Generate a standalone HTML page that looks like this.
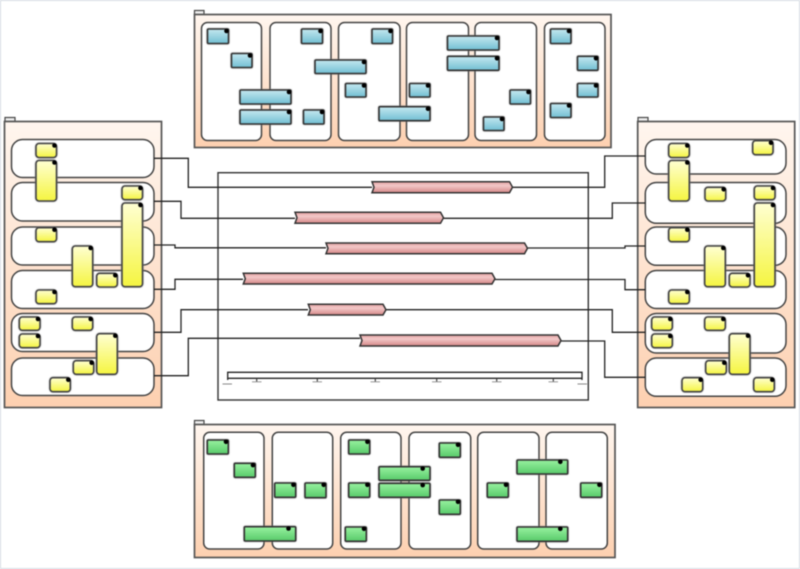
<!DOCTYPE html>
<html><head><meta charset="utf-8"><style>
html,body{margin:0;padding:0;background:#fff;width:800px;height:569px;overflow:hidden}
svg{display:block;filter:blur(.4px)}
.l{fill:#fff;stroke:#444;stroke-width:1.5}
.p{stroke:#555;stroke-width:1.7}
.t{fill:#eee;stroke:#444;stroke-width:1.2}
.c{fill:none;stroke:#222;stroke-width:1.3}
.b,.g,.y{filter:drop-shadow(0 0 .8px #888)}
.b rect{fill:url(#bl);stroke:#333;stroke-width:1.6}
.g rect{fill:url(#gr);stroke:#333;stroke-width:1.6}
.y rect{fill:url(#ye);stroke:#444;stroke-width:1.6}
.d circle{fill:#000;r:2.3px}
.r{fill:url(#re);stroke:#333;stroke-width:1.5}
.s{stroke:#888;stroke-width:.9}
</style></head><body>
<svg width="800" height="569" viewBox="0 0 800 569" xmlns="http://www.w3.org/2000/svg">
<defs>
<linearGradient id="pa" x1="0" y1="0" x2="0" y2="1"><stop offset="0" stop-color="#fff6ef"/><stop offset="1" stop-color="#fdd0b0"/></linearGradient>
<linearGradient id="bl" x1="0" y1="0" x2="0" y2="1"><stop offset="0" stop-color="#c4e8f0"/><stop offset="1" stop-color="#72bfd3"/></linearGradient>
<linearGradient id="gr" x1="0" y1="0" x2="0" y2="1"><stop offset="0" stop-color="#98f2a0"/><stop offset="1" stop-color="#58ca6a"/></linearGradient>
<linearGradient id="ye" x1="0" y1="0" x2="0" y2="1"><stop offset="0" stop-color="#ffffd2"/><stop offset="1" stop-color="#f5f540"/></linearGradient>
<linearGradient id="re" x1="0" y1="0" x2="0" y2="1"><stop offset="0" stop-color="#e4a0a0"/><stop offset=".35" stop-color="#f2c8c8"/><stop offset="1" stop-color="#d68888"/></linearGradient>
</defs>
<rect x=".5" y=".5" width="799" height="568" fill="#fff" stroke="#d4dae2"/>

<!-- panels -->
<rect class="t" x="194.500" y="10.500" width="9.500" height="4"/>
<rect class="p" x="194.500" y="14.500" width="416.500" height="133" fill="url(#pa)"/>
<rect class="t" x="5" y="117.500" width="10" height="4"/>
<rect class="p" x="4.500" y="121.500" width="157" height="286" fill="url(#pa)"/>
<rect class="t" x="638" y="117.500" width="10" height="4"/>
<rect class="p" x="637.700" y="121.500" width="157" height="286" fill="url(#pa)"/>
<rect class="t" x="194.500" y="420.500" width="9.500" height="4"/>
<rect class="p" x="194.500" y="424.500" width="420.500" height="133" fill="url(#pa)"/>

<!-- top lanes -->
<rect class="l" x="201.500" y="22.500" width="60" height="118" rx="6"/>
<rect class="l" x="270" y="22.500" width="61" height="118" rx="6"/>
<rect class="l" x="338.500" y="22.500" width="61.500" height="118" rx="6"/>
<rect class="l" x="406.500" y="22.500" width="62" height="118" rx="6"/>
<rect class="l" x="475" y="22.500" width="61.500" height="118" rx="6"/>
<rect class="l" x="544.500" y="22.500" width="60.500" height="118" rx="6"/>

<!-- left lanes -->
<rect class="l" x="11.500" y="139.500" width="142.500" height="38" rx="11"/>
<rect class="l" x="11.500" y="182.500" width="142.500" height="38.500" rx="11"/>
<rect class="l" x="11.500" y="227" width="142.500" height="38" rx="11"/>
<rect class="l" x="11.500" y="270.500" width="142.500" height="38" rx="11"/>
<rect class="l" x="11.500" y="313.500" width="142.500" height="38" rx="11"/>
<rect class="l" x="11.500" y="358" width="142.500" height="37.500" rx="11"/>

<!-- right lanes -->
<rect class="l" x="645.300" y="139.500" width="140.700" height="34.500" rx="11"/>
<rect class="l" x="645.300" y="182.500" width="140.700" height="40.800" rx="11"/>
<rect class="l" x="645.300" y="227" width="140.700" height="38.300" rx="11"/>
<rect class="l" x="645.300" y="270.500" width="140.700" height="38" rx="11"/>
<rect class="l" x="645.300" y="313.500" width="140.700" height="39.500" rx="11"/>
<rect class="l" x="645.300" y="358" width="140.700" height="38.300" rx="11"/>

<!-- bottom lanes -->
<rect class="l" x="203.700" y="432.300" width="60.300" height="116.700" rx="6"/>
<rect class="l" x="272.300" y="432.300" width="60.400" height="116.700" rx="6"/>
<rect class="l" x="340.700" y="432.300" width="60.300" height="116.700" rx="6"/>
<rect class="l" x="409" y="432.300" width="61.700" height="116.700" rx="6"/>
<rect class="l" x="477.700" y="432.300" width="61.300" height="116.700" rx="6"/>
<rect class="l" x="546" y="432.300" width="61.300" height="116.700" rx="6"/>

<!-- centre frame -->
<rect x="218" y="172.700" width="370.300" height="227.300" fill="#fff" stroke="#333" stroke-width="1.4"/>

<!-- connectors -->
<path class="c" d="M154 158.300H188.300V187.300H372"/>
<path class="c" d="M154 201.300H181V218.300H295"/>
<path class="c" d="M154 245H175V247.800H326"/>
<path class="c" d="M154 289.300H175V279.300H243"/>
<path class="c" d="M154 332.300H181V309.700H308"/>
<path class="c" d="M154 375.700H188.300V338.300H360"/>
<path class="c" d="M512 187.300H604.700V156H645.300"/>
<path class="c" d="M443 218.300H612.300V203H645.300"/>
<path class="c" d="M527 248H625V246H645.300"/>
<path class="c" d="M495 279.500H625V289.700H645.300"/>
<path class="c" d="M386 309.700H612.300V332.300H645.300"/>
<path class="c" d="M561 341H604.700V377.300H645.300"/>

<!-- red bars -->
<path class="r" d="M372 181.700H509.500L512.500 187.200L509.500 192.700H372L374 187.200Z"/>
<path class="r" d="M295 212.300H440.500L443.500 217.800L440.500 223.300H295L297 217.800Z"/>
<path class="r" d="M326 243H524.500L527.500 248.300L524.500 253.700H326L328 248.300Z"/>
<path class="r" d="M243.300 273.300H492L495 278.700L492 284H243.300L245.300 278.700Z"/>
<path class="r" d="M308.300 304.300H383L386 309.700L383 315H308.300L310.300 309.700Z"/>
<path class="r" d="M360 335H558L561 340.500L558 346H360L362 340.500Z"/>

<!-- scale -->
<path d="M227.700 380V372.300H582V378.300H227.700M582 372.300V380" fill="none" stroke="#222" stroke-width="1.3"/>
<path d="M256.700 378.300V381.500M317.300 378.300V381.500M375.300 378.300V381.500M436.700 378.300V381.500M496.700 378.300V381.500M553.300 378.300V381.500" stroke="#333" stroke-width="1.1"/>
<path class="s" d="M252 381.800H261.500M312.500 381.800H322M370.500 381.800H380M432 381.800H441.500M492 381.800H501.500M548.500 381.800H558M222.500 384H232M577.500 384H587"/>

<!-- blue -->
<g class="b">
<rect x="207.500" y="29" width="21" height="14.500" rx="1"/>
<rect x="231.500" y="53.500" width="20.500" height="14" rx="1"/>
<rect x="240" y="90" width="51" height="14" rx="1"/>
<rect x="240" y="110" width="51" height="14" rx="1"/>
<rect x="301.500" y="29" width="21" height="14.500" rx="1"/>
<rect x="303.500" y="110" width="20.500" height="14" rx="1"/>
<rect x="315" y="60" width="51" height="13.500" rx="1"/>
<rect x="345.500" y="83.500" width="20.500" height="13.500" rx="1"/>
<rect x="372" y="29" width="20.500" height="14.500" rx="1"/>
<rect x="379" y="106.700" width="51" height="14" rx="1"/>
<rect x="409.500" y="83.500" width="20.500" height="13.500" rx="1"/>
<rect x="447.500" y="36" width="51.500" height="14" rx="1"/>
<rect x="447.500" y="56.300" width="51.500" height="14" rx="1"/>
<rect x="510" y="90" width="20.500" height="14" rx="1"/>
<rect x="483.500" y="117" width="20.500" height="13.500" rx="1"/>
<rect x="550.500" y="29" width="20.500" height="14.500" rx="1"/>
<rect x="577.500" y="56.300" width="20.500" height="14" rx="1"/>
<rect x="577.500" y="83.500" width="20.500" height="13.500" rx="1"/>
<rect x="550.500" y="103.500" width="20.500" height="14" rx="1"/>
</g>
<g class="d">
<circle cx="226.500" cy="31" r="2.300"/><circle cx="250" cy="55.500" r="2.300"/><circle cx="289" cy="92" r="2.300"/><circle cx="289" cy="112" r="2.300"/><circle cx="320.500" cy="31" r="2.300"/><circle cx="322" cy="112" r="2.300"/><circle cx="364" cy="62" r="2.300"/><circle cx="364" cy="85.500" r="2.300"/><circle cx="390.500" cy="31" r="2.300"/><circle cx="428" cy="108.700" r="2.300"/><circle cx="428" cy="85.500" r="2.300"/><circle cx="497" cy="38" r="2.300"/><circle cx="497" cy="58.300" r="2.300"/><circle cx="528.500" cy="92" r="2.300"/><circle cx="502" cy="119" r="2.300"/><circle cx="569" cy="31" r="2.300"/><circle cx="596" cy="58.300" r="2.300"/><circle cx="596" cy="85.500" r="2.300"/><circle cx="569" cy="105.500" r="2.300"/>
</g>

<!-- yellow left -->
<g class="y">
<rect x="36" y="143.500" width="20.500" height="14" rx="3"/>
<rect x="36" y="160.500" width="20.500" height="40.500" rx="3"/>
<rect x="122" y="186" width="20.500" height="13.700" rx="3"/>
<rect x="122" y="203" width="20.500" height="83.700" rx="3"/>
<rect x="36" y="227.700" width="20.500" height="14" rx="3"/>
<rect x="72.300" y="246" width="20.400" height="40.700" rx="3"/>
<rect x="96.700" y="273.300" width="20.600" height="13.700" rx="3"/>
<rect x="36" y="290" width="20.500" height="13.700" rx="3"/>
<rect x="19.300" y="317" width="20.700" height="13.300" rx="3"/>
<rect x="19.300" y="334" width="20.700" height="13.700" rx="3"/>
<rect x="72.300" y="317" width="20.400" height="13.300" rx="3"/>
<rect x="96.700" y="333.700" width="20.600" height="40.600" rx="3"/>
<rect x="73.300" y="360.700" width="20.400" height="13.600" rx="3"/>
<rect x="50" y="377.700" width="20.300" height="14" rx="3"/>
</g>
<g class="d">
<circle cx="54.500" cy="145.500" r="2.300"/><circle cx="54.500" cy="162.500" r="2.300"/><circle cx="140.500" cy="188" r="2.300"/><circle cx="140.500" cy="205" r="2.300"/><circle cx="54.500" cy="229.700" r="2.300"/><circle cx="90.700" cy="248" r="2.300"/><circle cx="115.300" cy="275.300" r="2.300"/><circle cx="54.500" cy="292" r="2.300"/><circle cx="38" cy="319" r="2.300"/><circle cx="38" cy="336" r="2.300"/><circle cx="90.700" cy="319" r="2.300"/><circle cx="115.300" cy="335.700" r="2.300"/><circle cx="91.700" cy="362.700" r="2.300"/><circle cx="68.300" cy="379.700" r="2.300"/>
</g>

<!-- yellow right -->
<g class="y">
<rect x="668.700" y="143.500" width="20.600" height="14" rx="3"/>
<rect x="752.700" y="140.700" width="20.300" height="14" rx="3"/>
<rect x="668.700" y="160.500" width="20.600" height="40.500" rx="3"/>
<rect x="705" y="187.300" width="20.700" height="13.700" rx="3"/>
<rect x="754.300" y="186" width="20.700" height="13.700" rx="3"/>
<rect x="754.300" y="203" width="20.700" height="83.700" rx="3"/>
<rect x="668.700" y="227.700" width="20.600" height="14" rx="3"/>
<rect x="704.700" y="246" width="20.600" height="40.700" rx="3"/>
<rect x="729.300" y="273.300" width="20.700" height="13.700" rx="3"/>
<rect x="668.700" y="290" width="20.600" height="13.700" rx="3"/>
<rect x="651.700" y="317" width="20.600" height="13.300" rx="3"/>
<rect x="651.700" y="334" width="20.600" height="13.700" rx="3"/>
<rect x="704.700" y="317" width="20.600" height="13.300" rx="3"/>
<rect x="729.300" y="333.700" width="20.700" height="40.600" rx="3"/>
<rect x="705.700" y="360.700" width="20.600" height="13.600" rx="3"/>
<rect x="682" y="377.700" width="20.700" height="14" rx="3"/>
<rect x="753.700" y="377.700" width="20.600" height="14" rx="3"/>
</g>
<g class="d">
<circle cx="687.300" cy="145.500" r="2.300"/><circle cx="771" cy="142.700" r="2.300"/><circle cx="687.300" cy="162.500" r="2.300"/><circle cx="723.700" cy="189.300" r="2.300"/><circle cx="773" cy="188" r="2.300"/><circle cx="773" cy="205" r="2.300"/><circle cx="687.300" cy="229.700" r="2.300"/><circle cx="723.300" cy="248" r="2.300"/><circle cx="748" cy="275.300" r="2.300"/><circle cx="687.300" cy="292" r="2.300"/><circle cx="670.300" cy="319" r="2.300"/><circle cx="670.300" cy="336" r="2.300"/><circle cx="723.300" cy="319" r="2.300"/><circle cx="748" cy="335.700" r="2.300"/><circle cx="724.300" cy="362.700" r="2.300"/><circle cx="700.700" cy="379.700" r="2.300"/><circle cx="772.300" cy="379.700" r="2.300"/>
</g>

<!-- green -->
<g class="g">
<rect x="207.300" y="440" width="21" height="14" rx="1"/>
<rect x="234.300" y="463.300" width="21" height="14" rx="1"/>
<rect x="274.700" y="483" width="21" height="14.300" rx="1"/>
<rect x="305" y="483" width="21" height="14.700" rx="1"/>
<rect x="244.300" y="526.700" width="51.400" height="14.300" rx="1"/>
<rect x="348.700" y="440" width="21" height="14" rx="1"/>
<rect x="348.700" y="483" width="21" height="14.300" rx="1"/>
<rect x="345.300" y="527" width="21" height="14.300" rx="1"/>
<rect x="379" y="466.700" width="51" height="13.600" rx="1"/>
<rect x="379" y="483.300" width="51" height="14" rx="1"/>
<rect x="439.300" y="443" width="21" height="14.300" rx="1"/>
<rect x="439.300" y="500" width="21" height="14.300" rx="1"/>
<rect x="487.300" y="483" width="21" height="14.300" rx="1"/>
<rect x="517" y="460" width="50.700" height="14" rx="1"/>
<rect x="517" y="527" width="50.700" height="14.300" rx="1"/>
<rect x="580.700" y="483" width="21" height="14.300" rx="1"/>
</g>
<g class="d">
<circle cx="226" cy="441.800" r="2.300"/><circle cx="253" cy="465.100" r="2.300"/><circle cx="293.400" cy="484.800" r="2.300"/><circle cx="323.700" cy="484.800" r="2.300"/><circle cx="288.500" cy="528.500" r="2.300"/><circle cx="367.400" cy="441.800" r="2.300"/><circle cx="367.400" cy="484.800" r="2.300"/><circle cx="364" cy="528.800" r="2.300"/><circle cx="422.700" cy="468.500" r="2.300"/><circle cx="422.700" cy="485.100" r="2.300"/><circle cx="458" cy="444.800" r="2.300"/><circle cx="458" cy="501.800" r="2.300"/><circle cx="506" cy="484.800" r="2.300"/><circle cx="560.300" cy="461.800" r="2.300"/><circle cx="560.300" cy="528.800" r="2.300"/><circle cx="599.400" cy="484.800" r="2.300"/>
</g>
</svg>
</body></html>
